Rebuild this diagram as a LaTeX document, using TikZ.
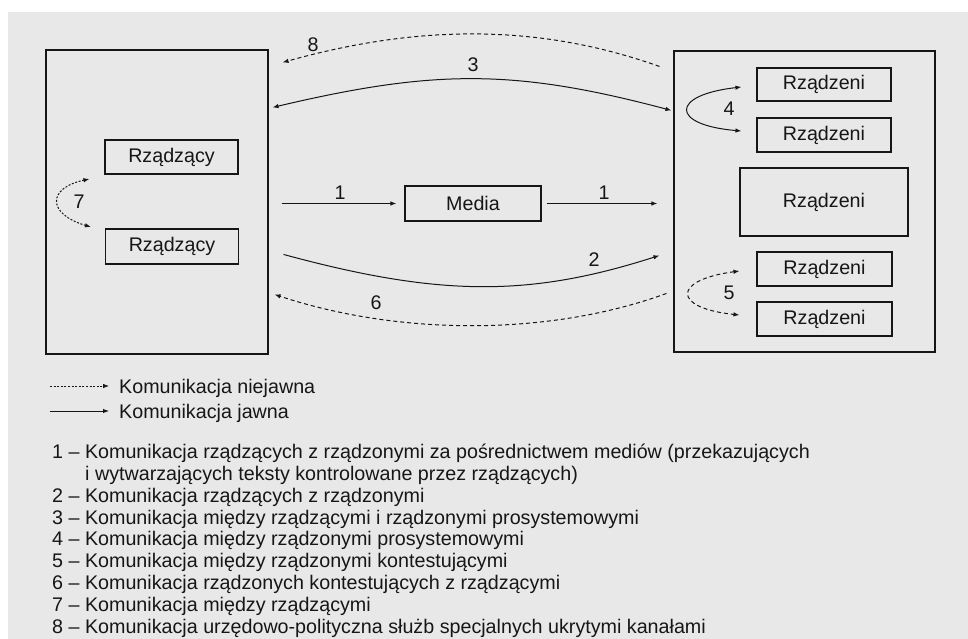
\documentclass[tikz,border=0pt]{standalone}
\usepackage{fontspec}
\setmainfont{Liberation Sans}
\usetikzlibrary{arrows.meta,calc}
\definecolor{paper}{RGB}{232,232,232}
\definecolor{ink}{RGB}{22,22,22}
\newcommand\txtsz{\fontsize{19.7bp}{23bp}\selectfont}
\begin{document}
\begin{tikzpicture}[x=1bp,y=-1bp,
  every node/.style={font=\txtsz, text=ink},
  bigbox/.style={draw=ink, line width=1.1bp, inner sep=0pt},
  smallbox/.style={draw=ink, line width=1.1bp, inner sep=0pt},
  jawna/.style={draw=ink, line width=1bp, -{Latex[length=6bp,width=4.5bp]}},
  jawnatwo/.style={draw=ink, line width=1bp, {Latex[length=6bp,width=4.5bp]}-{Latex[length=6bp,width=4.5bp]}},
  kreski/.style={dash pattern=on 4bp off 3bp},
  kropki/.style={dash pattern=on 2bp off 1.6bp},
  lab/.style={inner sep=0pt},
  item/.style={anchor=base west, inner sep=0pt}
]
\fill[white] (0,0) rectangle (968,639);
\fill[paper] (8,12) rectangle (968,639);
\useasboundingbox (0,0) rectangle (968,639);

% big boxes
\node[bigbox, minimum width=222bp, minimum height=304bp] (L) at (157,202) {};
\node[bigbox, minimum width=261bp, minimum height=301bp] (R) at (804.5,201.5) {};

% inner boxes
\node[smallbox, minimum width=133bp, minimum height=34bp] (g1) at (171.5,157) {Rządzący};
\node[smallbox, minimum width=133bp, minimum height=35bp] (g2) at (172,246.5) {Rządzący};
\node[smallbox, minimum width=136bp, minimum height=35bp] (M) at (473,203.5) {Media};
\node[smallbox, minimum width=134bp, minimum height=33bp] (r1) at (824,84.5) {Rządzeni};
\node[smallbox, minimum width=134bp, minimum height=34bp] (r2) at (824,135) {Rządzeni};
\node[smallbox, minimum width=168bp, minimum height=68bp] (r3) at (824,202) {Rządzeni};
\node[smallbox, minimum width=135bp, minimum height=34bp] (r4) at (824.5,269) {Rządzeni};
\node[smallbox, minimum width=135bp, minimum height=34bp] (r5) at (824.5,319) {Rządzeni};

% connector end points
\coordinate (a3l) at ($(L.north east)+(4,58)$);
\coordinate (a3r) at ($(R.north west)+(-2,60)$);
\coordinate (a8s) at ($(R.north west)+(-14,16)$);
\coordinate (a8e) at ($(L.north east)+(14,13)$);
\coordinate (a2s) at ($(L.north east)+(15,205)$);
\coordinate (a2e) at ($(R.north west)+(-14,205)$);
\coordinate (a6s) at ($(R.north west)+(-7,243)$);
\coordinate (a6e) at ($(L.north east)+(6,245)$);

% arrow 3 (two-way, explicit)
\draw[jawnatwo] (a3l) .. controls (435,69) and (515,69) .. (a3r);
\node[lab] (n3) at (473,65) {3};
% arrow 8 (hidden)
\draw[jawna, kreski] (a8s) .. controls (540,24) and (420,24) .. (a8e);
\node[lab] (n8) at (313,45) {8};
% arrow 1
\draw[jawna] ($(L.east |- M.west)+(13,0)$) -- ($(M.west)+(-8,0)$);
\node[lab] (n1a) at (340,193) {1};
\draw[jawna] ($(M.east)+(5,0)$) -- ($(R.west |- M.east)+(-16,0)$);
\node[lab] (n1b) at (604,193) {1};
% arrow 2
\draw[jawna] (a2s) .. controls (440,297) and (530,297) .. (a2e);
\node[lab] (n2) at (594,260) {2};
% arrow 6
\draw[jawna, kreski] (a6s) .. controls (550,336) and (400,336) .. (a6e);
\node[lab] (n6) at (376,303) {6};
% arrow 4
\draw[jawnatwo] ($(r1.west)+(-15,2.5)$) .. controls (670,95) and (670,125) .. ($(r2.west)+(-15,-4)$);
\node[lab] (n4) at (729,109) {4};
% arrow 5
\draw[jawnatwo, kreski] ($(r4.west)+(-17,2)$) .. controls (672,280) and (672,308) .. ($(r5.west)+(-17,-4)$);
\node[lab] (n5) at (729,293) {5};
% arrow 7
\draw[jawnatwo, kropki] ($(g1.west)+(-15,22)$) .. controls (47,188) and (47,214) .. ($(g2.west)+(-14,-19.5)$);
\node[lab] (n7) at (79,202) {7};

% legend
\node[item] (leg1) at (119,393) {Komunikacja niejawna};
\node[item] (leg2) at (119,418) {Komunikacja jawna};
\coordinate (leg1s) at (50,386);
\coordinate (leg2s) at (50,411);
\draw[jawna, kropki, line width=0.8bp, shorten >=10bp] (leg1s) -- (leg1s -| leg1.west);
\draw[jawna, line width=0.9bp, shorten >=10bp] (leg2s) -- (leg2s -| leg2.west);

% list
\node[item] (i1) at (52,458.5) {1 – Komunikacja rządzących z rządzonymi za pośrednictwem mediów (przekazujących};
\node[item] (i1b) at (85,480.3) {i wytwarzających teksty kontrolowane przez rządzących)};
\node[item] (i2) at (52,502.2) {2 – Komunikacja rządzących z rządzonymi};
\node[item] (i3) at (52,524) {3 – Komunikacja między rządzącymi i rządzonymi prosystemowymi};
\node[item] (i4) at (52,545.9) {4 – Komunikacja między rządzonymi prosystemowymi};
\node[item] (i5) at (52,567.7) {5 – Komunikacja między rządzonymi kontestującymi};
\node[item] (i6) at (52,589.6) {6 – Komunikacja rządzonych kontestujących z rządzącymi};
\node[item] (i7) at (52,611.4) {7 – Komunikacja między rządzącymi};
\node[item] (i8) at (52,633.3) {8 – Komunikacja urzędowo-polityczna służb specjalnych ukrytymi kanałami};
\end{tikzpicture}
\end{document}
